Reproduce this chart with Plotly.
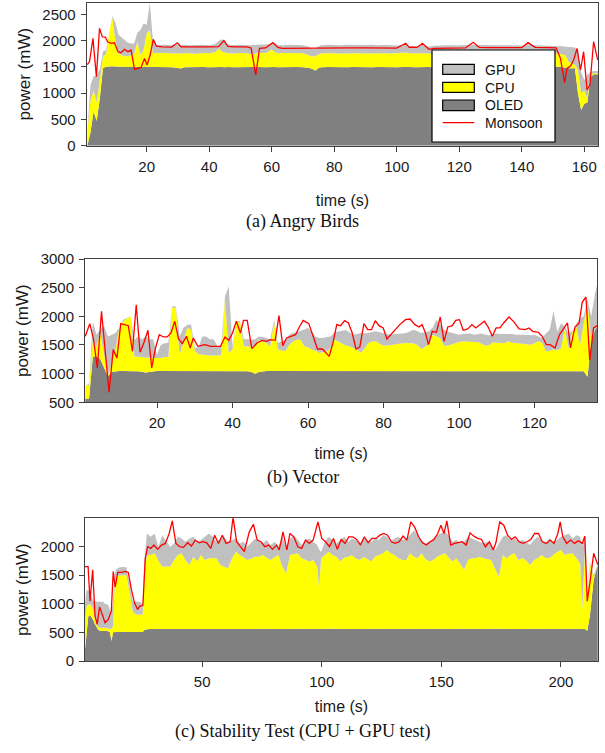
import plotly.graph_objects as go

# ---------------- (a) Angry Birds ----------------
t_a = [1, 2, 3, 4, 5, 6, 7, 8, 9, 10,
       11, 12, 13, 14, 15, 16, 17, 18, 19, 20,
       21, 22, 23, 24, 26, 28, 30, 31, 32, 34,
       36, 38, 40, 42, 43, 44, 45, 46, 48, 50,
       52, 54, 55, 56, 58, 59, 60, 61, 62, 64,
       66, 68, 70, 72, 73, 74, 75, 76, 78, 80,
       82, 84, 86, 88, 90, 92, 94, 96, 98, 100,
       102, 103, 104, 106, 108, 109, 110, 112, 116, 120,
       124, 125, 128, 132, 136, 140, 142, 144, 148, 150,
       151, 152, 153, 154, 155, 156, 157, 158, 159, 160,
       161, 162, 163, 164.5]
# stacked boundaries (mW): OLED, OLED+CPU, OLED+CPU+GPU
oled_a = [0, 250, 650, 470, 900, 1480, 1500, 1510, 1510, 1505,
          1500, 1495, 1490, 1495, 1500, 1495, 1500, 1495, 1500, 1500,
          1495, 1500, 1495, 1490, 1495, 1490, 1480, 1470, 1490, 1495,
          1490, 1495, 1490, 1495, 1500, 1495, 1490, 1495, 1490, 1495,
          1490, 1495, 1490, 1495, 1490, 1495, 1490, 1495, 1490, 1495,
          1490, 1495, 1490, 1480, 1460, 1430, 1480, 1490, 1495, 1490,
          1495, 1490, 1495, 1490, 1495, 1490, 1495, 1490, 1495, 1490,
          1495, 1490, 1495, 1490, 1495, 1490, 1495, 1490, 1495, 1490,
          1495, 1490, 1495, 1490, 1495, 1490, 1495, 1490, 1495, 1500,
          1500, 1500, 1490, 1480, 1480, 1470, 1480, 1000, 680, 800,
          820, 1300, 1360, 1360]
oled_cpu_a = [240, 850, 1050, 820, 1250, 1700, 1740, 2150, 2440, 2000,
              1750, 1725, 1700, 1695, 1720, 1755, 1975, 1725, 1820, 2135,
              2200, 1760, 1765, 1760, 1770, 1755, 1760, 1750, 1765, 1760,
              1750, 1765, 1760, 1780, 1850, 1790, 1770, 1760, 1755, 1765,
              1760, 1740, 1760, 1770, 1760, 1800, 1830, 1780, 1760, 1765,
              1760, 1755, 1760, 1720, 1695, 1700, 1740, 1760, 1765, 1760,
              1755, 1760, 1765, 1760, 1755, 1760, 1765, 1760, 1755, 1765,
              1770, 1775, 1760, 1765, 1770, 1760, 1755, 1760, 1765, 1760,
              1765, 1760, 1755, 1760, 1765, 1760, 1770, 1760, 1765, 1760,
              1760, 1750, 1740, 1720, 1600, 1560, 1540, 1450, 1000, 1050,
              900, 1350, 1380, 1380]
oled_cpu_gpu_a = [240, 1150, 1320, 1330, 1450, 1790, 1820, 2180, 2460, 2340,
                  2110, 2060, 2010, 1960, 1945, 1945, 2150, 2200, 2325, 2300,
                  2720, 1990, 1910, 1915, 1920, 1910, 1925, 1915, 1920, 1910,
                  1915, 1920, 1910, 1935, 1990, 2025, 1990, 1925, 1915, 1920,
                  1910, 1915, 1920, 1910, 1915, 1930, 1950, 1925, 1915, 1910,
                  1920, 1915, 1910, 1880, 1840, 1850, 1890, 1910, 1920, 1915,
                  1910, 1920, 1915, 1910, 1915, 1920, 1910, 1915, 1910, 1905,
                  1915, 1925, 1895, 1890, 1920, 1900, 1885, 1900, 1910, 1905,
                  1925, 1915, 1910, 1905, 1910, 1905, 1925, 1910, 1905, 1900,
                  1900, 1890, 1890, 1880, 1880, 1880, 1870, 1800, 1400, 1250,
                  1350, 1400, 1420, 1420]
t_mon_a = [1, 1.7, 2.8, 3.9, 4.9, 5.8, 6.8, 7.5, 8.6, 9.7,
           10.8, 11.8, 12.9, 14, 15, 16.1, 17.1, 18.2, 19.3, 20.1,
           21.1, 22.1, 23.1, 25, 28, 29.8, 31, 33, 36, 40,
           43, 44.7, 46, 48, 52, 53.4, 54.9, 56.1, 58, 60.4,
           62, 63.3, 66, 70, 75, 80, 85, 90, 95, 100,
           102.9, 104, 105.3, 106.5, 108.2, 110.3, 112, 116, 120, 122,
           124.5, 126.4, 130, 135, 140, 142, 144.3, 148, 151, 152.4,
           153.7, 154.5, 155.6, 156.6, 157.7, 158.8, 159.8, 160.9, 161.8, 163,
           164.3]
monsoon_a = [1540, 1600, 2041, 1312, 2231, 2072, 2060, 1977, 1945, 1958,
             1788, 1768, 1832, 1788, 1819, 1452, 1471, 1490, 1661, 1534,
             1724, 2022, 1895, 1880, 1875, 1958, 1880, 1875, 1880, 1880,
             1885, 2000, 1890, 1880, 1880, 1860, 1345, 1853, 1860, 1960,
             1870, 1853, 1855, 1860, 1865, 1860, 1860, 1860, 1860, 1855,
             1948, 1870, 1875, 1870, 1948, 1834, 1850, 1855, 1860, 1860,
             1967, 1870, 1865, 1865, 1865, 1960, 1870, 1865, 1860, 1662,
             1198, 1471, 1517, 1631, 1852, 1440, 1788, 1059, 1154, 1978,
             1631]

# ---------------- (b) Vector ----------------
t_b = [1, 2, 3, 4, 5, 6, 7, 8, 9, 10,
       11, 12, 13, 14, 15, 16, 17, 18, 19, 20,
       21, 22, 23, 24, 25, 26, 27, 28, 29, 30,
       31, 32, 33, 34, 35, 36, 37, 38, 39, 40,
       41, 42, 43, 44, 45, 46, 47, 48, 49, 50,
       51, 52, 53, 54, 55, 56, 57, 58, 59, 60,
       61, 62, 63, 64, 65, 66, 67, 68, 69, 70,
       71, 72, 73, 74, 75, 76, 77, 78, 79, 80,
       81, 82, 83, 84, 85, 86, 87, 88, 89, 90,
       91, 92, 93, 94, 95, 96, 97, 98, 99, 100,
       101, 102, 103, 104, 105, 106, 107, 108, 109, 110,
       111, 112, 113, 114, 115, 116, 117, 118, 119, 120,
       121, 122, 123, 124, 125, 126, 127, 128, 129, 130,
       131, 132, 133, 134, 135, 136, 136.6]
oled_b = [560, 560, 1300, 1300, 1250, 1100, 950, 1030, 1040, 1045,
          1045, 1040, 1045, 1040, 1040, 1035, 1020, 1030, 1040, 1045,
          1045, 1045, 1045, 1045, 1045, 1045, 1040, 1040, 1045, 1045,
          1045, 1045, 1045, 1040, 1040, 1040, 1040, 1045, 1045, 1045,
          1045, 1045, 1045, 1040, 1030, 1000, 1030, 1040, 1045, 1045,
          1045, 1040, 1045, 1050, 1045, 1045, 1040, 1045, 1050, 1045,
          1045, 1050, 1045, 1040, 1045, 1050, 1045, 1045, 1040, 1045,
          1045, 1050, 1045, 1045, 1040, 1045, 1050, 1045, 1045, 1040,
          1045, 1045, 1050, 1045, 1040, 1045, 1045, 1050, 1045, 1045,
          1040, 1045, 1045, 1050, 1045, 1045, 1040, 1045, 1045, 1050,
          1045, 1045, 1040, 1045, 1050, 1045, 1045, 1045, 1040, 1045,
          1045, 1050, 1045, 1045, 1040, 1045, 1045, 1050, 1045, 1045,
          1040, 1045, 1045, 1050, 1045, 1045, 1045, 1040, 1045, 1045,
          1045, 1045, 1040, 946, 1560, 1760, 1819]
oled_cpu_b = [790, 800, 1590, 1480, 1710, 1300, 960, 1190, 1420, 1800,
              1910, 1960, 2000, 1300, 1300, 1290, 1280, 1275, 1270, 1275,
              1275, 1290, 1290, 2150, 2150, 1330, 1550, 1800, 1770, 1400,
              1340, 1330, 1320, 1315, 1315, 1315, 1320, 2290, 1360, 1420,
              1910, 1900, 1480, 1480, 1470, 1480, 1590, 1560, 1535, 1480,
              1900, 1420, 1400, 1390, 1500, 1560, 1590, 1590, 1480, 1460,
              1420, 1400, 1360, 1370, 1390, 1450, 1590, 1560, 1530, 1490,
              1480, 1450, 1420, 1360, 1450, 1535, 1560, 1564, 1520, 1488,
              1490, 1506, 1510, 1520, 1530, 1535, 1530, 1525, 1500, 1430,
              1470, 1506, 1680, 1650, 1620, 1488, 1490, 1510, 1535, 1550,
              1564, 1560, 1564, 1550, 1547, 1520, 1488, 1500, 1547, 1540,
              1535, 1530, 1564, 1540, 1535, 1530, 1525, 1510, 1506, 1530,
              1564, 1540, 1390, 1400, 1419, 1412, 1441, 1790, 1441, 1732,
              1848, 1499, 1906, 2255, 1580, 1770, 1830]
oled_cpu_gpu_b = [790, 830, 1910, 1680, 1770, 1830, 1650, 1680, 1710, 1800,
                  1940, 1970, 2000, 1590, 1650, 1600, 1650, 1600, 1600, 1330,
                  1500, 1530, 1540, 2175, 2170, 1650, 1800, 1850, 1860, 1450,
                  1460, 1650, 1650, 1600, 1600, 1480, 1470, 2350, 2520, 1480,
                  1920, 1920, 1600, 1600, 1590, 1600, 1650, 1640, 1620, 1600,
                  1940, 1540, 1560, 1590, 1680, 1710, 1720, 1740, 1770, 1800,
                  1720, 1650, 1620, 1620, 1640, 1650, 1720, 1740, 1750, 1760,
                  1720, 1680, 1690, 1710, 1700, 1710, 1730, 1740, 1720, 1710,
                  1690, 1680, 1690, 1690, 1700, 1710, 1740, 1767, 1740, 1710,
                  1720, 1738, 1800, 1940, 1850, 1767, 1730, 1709, 1700, 1680,
                  1690, 1690, 1700, 1680, 1690, 1700, 1680, 1670, 1690, 1700,
                  1690, 1690, 1700, 1690, 1680, 1680, 1690, 1680, 1670, 1680,
                  1650, 1622, 1700, 1767, 2099, 1732, 1877, 1820, 1700, 1750,
                  1860, 1960, 2000, 2290, 2000, 2400, 2558]
t_mon_b = [1, 2.2, 3.2, 4.2, 5.3, 6.3, 7.3, 8.4, 9.4, 10.4,
           11.4, 12.4, 13.5, 14.5, 15.5, 16.5, 17.6, 18.6, 19.6, 20.6,
           21.7, 22.7, 23.7, 24.7, 25.7, 26.7, 27.8, 28.8, 29.6, 30.8,
           32.7, 34.2, 36.8, 38, 39, 40, 41, 42.1, 42.9, 43.9,
           45.1, 46.5, 47.8, 49, 50, 51.3, 52.3, 53.3, 54.3, 55.6,
           56.7, 57.7, 58.7, 60.2, 61.5, 62.5, 63.8, 65.6, 66.6, 67.6,
           68.6, 69.7, 70.7, 71.7, 72.7, 73.7, 74.8, 75.8, 76.8, 77.8,
           78.8, 79.9, 80.9, 81.9, 82.9, 84.3, 85.8, 87, 88.3, 89.4,
           90.2, 91.1, 91.9, 92.9, 94, 95, 96, 97, 98.2, 99.1,
           100.1, 101.1, 102.3, 103.4, 104.4, 105.7, 106.7, 107.7, 108.8, 109.8,
           110.8, 111.8, 113.2, 114.4, 115.9, 117.5, 118.5, 119.5, 121, 122,
           123.1, 124.1, 125.4, 126.6, 127.7, 128.7, 129.5, 130.7, 131.8, 132.6,
           133.6, 134.6, 135.6, 136.6]
monsoon_b = [1651, 1872, 1593, 1099, 2087, 1331, 674, 1419, 1273, 1872,
             1855, 1837, 1390, 2203, 1372, 1535, 1756, 1099, 1448, 1680,
             1640, 1640, 1709, 1913, 1605, 1523, 1651, 1448, 1622, 1477,
             1506, 1477, 1477, 1640, 1581, 1709, 1913, 1709, 1930, 1930,
             1436, 1535, 1581, 1564, 1593, 1581, 2012, 1488, 1622, 1651,
             1680, 1814, 1930, 1872, 1605, 1430, 1430, 1302, 1535, 1855,
             1837, 1924, 1884, 1709, 1430, 1465, 1872, 1767, 1767, 1924,
             1837, 1797, 1605, 1680, 1767, 1855, 1942, 1953, 1855, 1814,
             1855, 1709, 1506, 1738, 1721, 1988, 1564, 1814, 1837, 1930,
             1942, 1756, 1779, 1855, 1797, 1855, 1913, 1814, 1651, 1797,
             1797, 1884, 1988, 1913, 1779, 1767, 1797, 1738, 1721, 1651,
             1506, 1506, 1448, 1680, 1797, 1884, 1448, 1814, 1884, 2244,
             2337, 1233, 1797, 1837]

# ---------------- (c) Stability Test ----------------
t_c = [1.0, 1.6, 2.4, 3.1, 3.8, 4.4, 5.1, 5.8, 6.5, 7.2,
       7.9, 8.6, 9.3, 10.0, 10.7, 11.4, 12.1, 12.7, 13.4, 14.1,
       15.5, 16.9, 18.3, 19.6, 21.0, 22.4, 23.8, 25.1, 25.8,
       26.9, 28.5, 30.1, 31.7, 33.3, 35.0, 36.6, 38.2, 39.8, 41.4,
       43.0, 44.7, 46.3, 47.9, 49.5, 51.1, 52.8, 54.4, 56.0, 57.6,
       59.2, 60.8, 62.5, 64.1, 65.7, 67.3, 68.9, 70.6, 72.2, 73.8,
       75.4, 77.0, 78.6, 80.3, 81.9, 83.5, 85.1, 86.7, 88.3, 90.0,
       91.6, 93.2, 94.8, 96.4, 98.1,
       98.9,
       99.7, 101.3, 102.9, 104.5, 106.1, 107.8, 109.4, 111.0, 112.6, 114.2,
       115.9, 117.5, 119.1, 120.7, 122.3, 123.9, 125.6, 127.2, 128.8, 130.4,
       132.0, 133.7, 135.3, 136.9, 138.5, 140.1, 141.7, 143.4, 145.0, 146.6,
       148.2, 149.8, 151.5, 153.1, 154.7, 156.3, 157.9, 159.5, 161.2, 162.8,
       164.4, 166.0, 167.6, 169.3, 170.9, 172.5, 174.1, 175.7, 177.3, 179.0,
       180.6, 182.2, 183.8, 185.4, 187.0, 188.7, 190.3, 191.9, 193.5, 195.1,
       196.8, 198.4, 200.0, 201.6, 203.2, 204.9, 206.5, 208.1,
       208.9, 210.0, 211.0, 212.1, 213.7, 215.4]
oled_c = [200, 500, 780, 800, 760, 720, 650, 590, 545, 530,
          525, 525, 525, 525, 520, 500, 350, 500, 505, 505,
          505, 505, 505, 505, 500, 500, 500, 505, 540,
          555, 558, 560, 562, 560, 558, 560, 563, 560, 558,
          560, 562, 560, 557, 560, 562, 560, 558, 560, 562,
          560, 558, 562, 560, 557, 560, 562, 560, 558, 560,
          562, 560, 558, 560, 562, 560, 555, 560, 562, 560,
          558, 560, 562, 560, 558,
          560,
          560, 562, 558, 560, 562, 560, 558, 560, 562, 560,
          558, 560, 562, 560, 558, 560, 562, 560, 558, 560,
          562, 560, 558, 560, 562, 560, 558, 560, 562, 560,
          558, 560, 562, 560, 558, 560, 562, 560, 558, 560,
          562, 560, 558, 560, 562, 558, 560, 562, 560, 558,
          560, 562, 560, 558, 560, 562, 560, 558, 560, 562,
          560, 558, 560, 562, 560, 558, 560, 562,
          560, 560, 530, 784, 1418, 1677]
oled_cpu_c = [700, 950, 980, 990, 950, 900, 760, 640, 595, 580,
              575, 580, 575, 575, 570, 565, 560, 620, 1343, 1488,
              1488, 1488, 1500, 1209, 860, 813, 813, 813, 1558,
              1850, 1850, 1880, 1750, 1648, 1650, 1648, 1760, 1850, 1879,
              1760, 1677, 1821, 1735, 1850, 1764, 1790, 1793, 1793, 1677,
              1650, 1620, 1793, 1908, 1850, 1800, 1764, 1790, 1820, 1821,
              1850, 1800, 1764, 1810, 1850, 1648, 1533, 1850, 1870, 1879,
              1793, 1760, 1735, 1764, 1648,
              1274,
              1790, 1850, 1908, 1850, 1821, 1735, 1800, 1821, 1850, 1790,
              1764, 1821, 1780, 1735, 1821, 1850, 1879, 1937, 1880, 1850,
              1793, 1764, 1764, 1879, 1820, 1793, 1879, 1780, 1735, 1764,
              1821, 1850, 1879, 1800, 1735, 1793, 1700, 1591, 1764, 1793,
              1793, 1821, 1793, 1780, 1764, 1600, 1476, 1850, 1793, 1850,
              1879, 1764, 1793, 1760, 1677, 1760, 1793, 1850, 1800, 1793,
              1850, 1900, 1937, 1850, 1870, 1879, 1793, 1700,
              900, 1900, 1000, 1706, 1450, 1680]
oled_cpu_gpu_c = [1000, 1230, 1236, 1180, 1120, 1060, 1040, 1034, 1034, 1040,
                  1030, 1034, 1000, 990, 976, 880, 870, 1000, 1518, 1600,
                  1635, 1640, 1635, 1340, 1034, 1034, 1034, 1000, 1732,
                  2225, 2167, 2225, 1994, 2196, 2081, 1994, 2052, 2167, 2139,
                  2081, 2139, 2167, 2081, 2110, 2167, 2225, 2167, 2081, 2139,
                  2167, 2081, 2110, 2139, 2052, 2081, 1994, 2063, 2139, 2081,
                  2052, 2110, 2023, 2081, 1994, 2167, 1966, 2139, 2196, 2110,
                  2023, 2110, 2139, 2081, 2023,
                  1950,
                  1900, 2081, 2167, 2110, 2052, 2110, 2167, 2081, 2139, 2110,
                  2052, 2139, 2110, 2081, 2139, 2110, 2196, 2167, 2081, 2139,
                  2167, 2110, 2139, 2196, 2283, 2196, 2110, 2052, 2081, 2139,
                  2196, 2225, 2254, 2196, 2081, 2110, 2052, 2081, 2167, 2139,
                  2110, 2081, 2052, 2081, 2023, 1937, 2052, 2167, 2196, 2110,
                  2139, 2081, 2110, 2081, 2023, 2110, 2167, 2110, 2052, 2139,
                  2081, 2110, 2167, 2196, 2225, 2139, 2196, 2167,
                  2000, 2170, 1100, 1735, 1500, 1690]
t_mon_c = [1.0, 2.3, 3.1, 4.2, 5.2, 6.1, 7.1, 8.1, 9.4, 10.7,
           12.0, 12.8, 13.6, 14.7, 16.3, 18.0, 19.1, 20.4, 21.7, 23.0,
           23.9, 25.2, 26.2, 27.2, 28.5, 29.8, 31.4, 33.0, 34.6, 36.2,
           37.5, 39.0, 40.6, 42.2, 43.9, 45.5, 47.1, 48.7, 50.3, 51.9,
           53.6, 55.2, 56.8, 58.4, 60.0, 61.7, 62.9, 64.4, 66.0, 67.6,
           69.7, 71.4, 73.0, 74.6, 76.2, 77.8, 79.4, 81.1, 82.2, 83.8,
           85.4, 86.7, 88.3, 90.0, 91.6, 93.2, 94.8, 96.4, 98.4, 100.0,
           101.6, 103.2, 104.9, 106.5, 108.1, 109.7, 111.3, 112.9, 114.6, 116.2,
           117.8, 119.4, 121.0, 122.7, 124.3, 125.9, 127.5, 129.1, 130.7, 132.4,
           134.0, 135.6, 137.2, 138.8, 140.5, 142.1, 143.7, 145.3, 146.9, 148.5,
           149.8, 151.1, 152.3, 153.9, 155.5, 157.1, 158.7, 160.4, 162.0, 163.6,
           165.2, 166.8, 168.4, 170.1, 171.7, 172.8, 174.4, 176.1, 177.7, 179.3,
           180.9, 182.5, 184.1, 185.8, 187.4, 189.0, 190.6, 192.2, 193.9, 195.5,
           197.1, 198.7, 199.7, 200.8, 202.4, 204.0, 205.7, 207.3, 208.9, 210.0,
           211.0, 212.1, 213.7, 215.4]
monsoon_c = [1648, 1648, 1043, 1591, 784, 640, 945, 813, 669, 726,
             870, 1562, 1291, 1545, 1545, 1562, 1545, 1245, 1014, 899,
             957, 968, 1793, 1994, 1966, 2023, 1948, 2023, 2052, 2225,
             2444, 2052, 1994, 1983, 2063, 2006, 2110, 2063, 2081, 2063,
             1966, 2196, 2052, 2196, 2052, 2081, 2513, 2081, 1994, 1908,
             2254, 2386, 2110, 2081, 1994, 2023, 1948, 2023, 1937, 2254,
             1937, 2225, 2167, 1994, 1966, 2110, 2052, 2110, 2427, 2139,
             2081, 1994, 2139, 1948, 2121, 2052, 2167, 2167, 2121, 2023,
             2167, 2063, 2139, 2139, 2196, 2225, 2196, 2081, 2052, 2081,
             2179, 2110, 2427, 2340, 2167, 2063, 2023, 2081, 2121, 2225,
             2369, 2225, 2444, 2023, 2052, 2063, 2081, 2023, 2236, 2179,
             2139, 2121, 1994, 2081, 1937, 2063, 2427, 2369, 2196, 2121,
             2167, 2081, 2052, 2081, 2121, 2225, 2225, 2081, 2052, 2110,
             2052, 2225, 2427, 2167, 2052, 2110, 2052, 2098, 2052, 2179,
             1043, 1360, 1879, 1677]

x_ticks_a = [20, 40, 60, 80, 100, 120, 140, 160]
x_ticks_b = [20, 40, 60, 80, 100, 120]
x_ticks_c = [50, 100, 150, 200]
y_ticks_a = [0, 500, 1000, 1500, 2000, 2500]
y_ticks_b = [500, 1000, 1500, 2000, 2500, 3000]
y_ticks_c = [0, 500, 1000, 1500, 2000]
captions = ["(a) Angry Birds", "(b) Vector", "(c) Stability Test (CPU + GPU test)"]
legend_names = ["GPU", "CPU", "OLED", "Monsoon"]

C_OLED, C_CPU, C_GPU, C_MON = "#808080", "#ffff00", "#c0c0c0", "#ff0000"

W, H = 605, 753
px = lambda v: v / W
py = lambda v: 1 - v / H

fig = go.Figure()

panels = [
    ("x", "y", t_a, oled_a, oled_cpu_a, oled_cpu_gpu_a, t_mon_a, monsoon_a),
    ("x2", "y2", t_b, oled_b, oled_cpu_b, oled_cpu_gpu_b, t_mon_b, monsoon_b),
    ("x3", "y3", t_c, oled_c, oled_cpu_c, oled_cpu_gpu_c, t_mon_c, monsoon_c),
]
for xa, ya, t, o, oc, ocg, tm, mon in panels:
    assert len(t) == len(o) == len(oc) == len(ocg), (xa, len(t), len(o), len(oc), len(ocg))
    assert len(tm) == len(mon), (xa, len(tm), len(mon))
    common = dict(mode="lines", line=dict(width=0), hoverinfo="skip",
                  showlegend=False, xaxis=xa, yaxis=ya)
    fig.add_trace(go.Scatter(x=t, y=o, fill="tozeroy", fillcolor=C_OLED, name="OLED", **common))
    fig.add_trace(go.Scatter(x=t, y=oc, fill="tonexty", fillcolor=C_CPU, name="CPU", **common))
    fig.add_trace(go.Scatter(x=t, y=ocg, fill="tonexty", fillcolor=C_GPU, name="GPU", **common))
    fig.add_trace(go.Scatter(x=tm, y=mon, mode="lines", name="Monsoon",
                             line=dict(color=C_MON, width=1.3), showlegend=False,
                             hoverinfo="skip", xaxis=xa, yaxis=ya))

SANS = "Liberation Sans, Arial, sans-serif"
SERIF = "Liberation Serif, Times New Roman, serif"
tickfont = dict(family=SANS, size=15, color="#1a1a1a")
ax_common = dict(showline=True, linecolor="#404040", linewidth=1, mirror=True,
                 ticks="outside", ticklen=5, tickcolor="#404040", showgrid=False,
                 zeroline=False, tickfont=tickfont, automargin=False)
xt_font = dict(family=SANS, size=16, color="#1a1a1a")
yt = dict(text="power (mW)", font=dict(family=SANS, size=17, color="#1a1a1a"), standoff=7)

fig.update_layout(
    width=W, height=H, margin=dict(l=0, r=0, t=0, b=0, autoexpand=False),
    paper_bgcolor="white", plot_bgcolor="white", showlegend=False,
    xaxis=dict(domain=[px(86.7), px(598.3)], range=[0.8, 164.5], tickvals=x_ticks_a,
               anchor="y", title=dict(text="time (s)", font=xt_font, standoff=21),
               ticklabelstandoff=2, **ax_common),
    yaxis=dict(domain=[py(145.7), py(2.7)], range=[0, 2720], tickvals=y_ticks_a,
               anchor="x", title=yt, ticklabelstandoff=2, **ax_common),
    xaxis2=dict(domain=[px(85), px(597.3)], range=[0.93, 136.6], tickvals=x_ticks_b,
                anchor="y2", title=dict(text="time (s)", font=xt_font, standoff=17),
                ticklabelstandoff=2, **ax_common),
    yaxis2=dict(domain=[py(402.3), py(259)], range=[500, 3000], tickvals=y_ticks_b,
                anchor="x2", title=yt, ticklabelstandoff=2, **ax_common),
    xaxis3=dict(domain=[px(85), px(598)], range=[1, 215.5], tickvals=x_ticks_c,
                anchor="y3", title=dict(text="time (s)", font=xt_font, standoff=11),
                ticklabelstandoff=2, **ax_common),
    yaxis3=dict(domain=[py(661), py(518.3)], range=[0, 2490], tickvals=y_ticks_c,
                anchor="x3", title=yt, ticklabelstandoff=2, **ax_common),
)

# captions
for cap, ycap in zip(captions, [222, 477, 731]):
    fig.add_annotation(text=cap, x=0.5, y=py(ycap), xref="paper", yref="paper",
                       showarrow=False, xanchor="center", yanchor="middle",
                       font=dict(family=SERIF, size=18, color="#111"))

# legend box (panel a)
shapes = [dict(type="rect", xref="paper", yref="paper", x0=px(432), x1=px(555),
               y0=py(142), y1=py(50), line=dict(color="#000", width=1.2), fillcolor="white",
               layer="above")]
sw_y = [(64.3, 74.3, C_GPU), (82.3, 92.3, C_CPU), (100, 110.7, C_OLED)]
for y0, y1, col in sw_y:
    shapes.append(dict(type="rect", xref="paper", yref="paper", x0=px(442.7), x1=px(474.3),
                       y0=py(y1), y1=py(y0), line=dict(color="#000", width=1.2),
                       fillcolor=col, layer="above"))
shapes.append(dict(type="line", xref="paper", yref="paper", x0=px(442.7), x1=px(474.3),
                   y0=py(122.7), y1=py(122.7), line=dict(color=C_MON, width=1.3), layer="above"))
fig.update_layout(shapes=shapes)
for name, yc in zip(legend_names, [70.0, 88.0, 105.5, 123.0]):
    fig.add_annotation(text=name, x=px(483), y=py(yc), xref="paper", yref="paper",
                       showarrow=False, xanchor="left", yanchor="middle",
                       font=dict(family=SANS, size=14, color="#111"))

fig.write_html("out.html", config={"displayModeBar": False},
               post_script="document.body.style.margin='0';document.body.style.padding='0';")
